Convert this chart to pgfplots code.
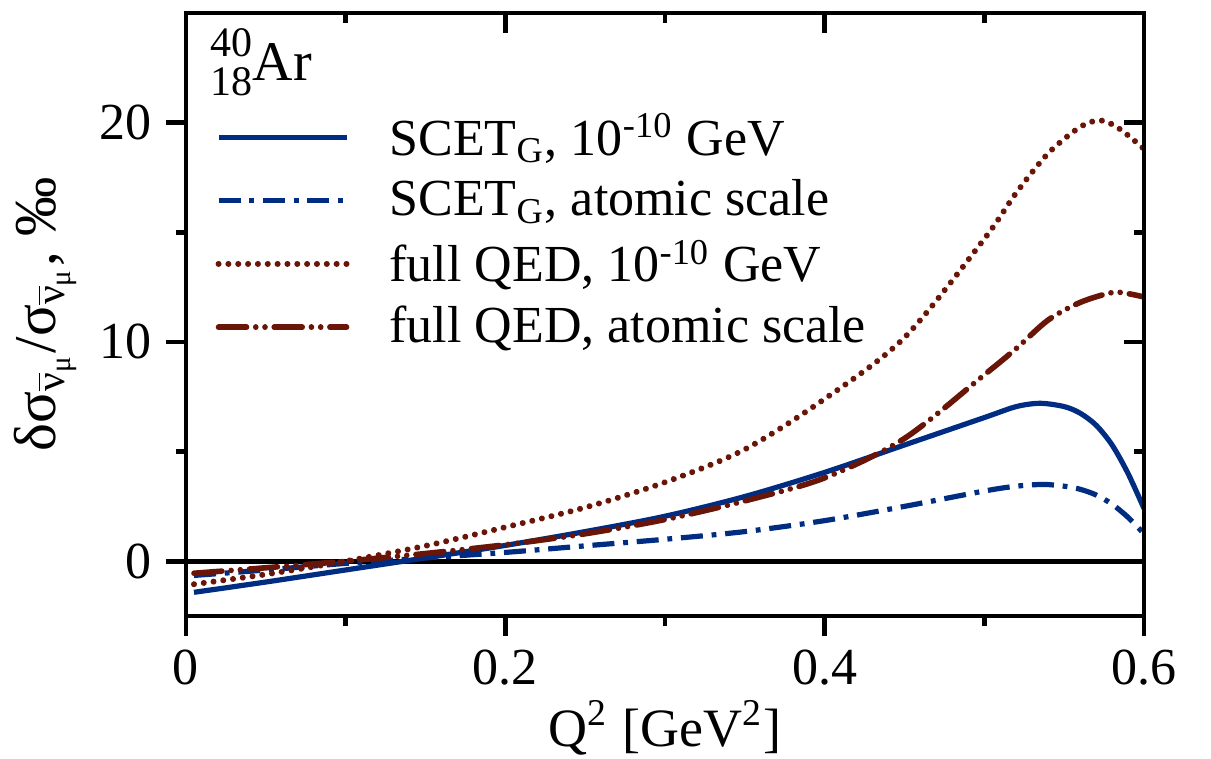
\documentclass[border=0pt]{standalone}
\usepackage{fontspec}
\setmainfont{Liberation Serif}
\usepackage{pgfplots}
\pgfplotsset{compat=1.18}
\usetikzlibrary{calc}
\definecolor{cblue}{RGB}{0,45,130}
\definecolor{cred}{RGB}{105,22,8}
\begin{document}
\begin{tikzpicture}
\pgfplotsset{
  myframe/.style={
    scale only axis, width=239.5pt, height=150.75pt,
    xmin=0, xmax=0.6, ymin=-2.5, ymax=25,
    axis line style={line width=1.2pt},
    every tick/.style={black, line width=1.2pt},
    every minor tick/.style={black, line width=1.2pt},
    major tick length=5pt, minor tick length=2.6pt,
    xtick={0,0.2,0.4,0.6}, minor xtick={0.1,0.3,0.5},
    ytick={0,10,20}, minor ytick={5,15},
    /pgf/number format/assume math mode=true,
    tick label style={font=\fontsize{13}{15}\selectfont},
  }
}
\begin{axis}[myframe, name=ax,
  tick align=outside, xtick pos=bottom, ytick pos=left,
  xticklabels={0,0.2,0.4,0.6},
  yticklabels={0,10,20},
  xlabel style={font=\fontsize{13.5}{15}\selectfont, yshift=3pt},
  ylabel style={font=\fontsize{14.8}{16}\selectfont, yshift=-1pt},
  xlabel={Q\textsuperscript{2} [GeV\textsuperscript{2}]},
  ylabel={δσ\textsubscript{\ensuremath{\overline{\mbox{ν}}}\textsubscript{μ}}/σ\textsubscript{\ensuremath{\overline{\mbox{ν}}}\textsubscript{μ}}, ‰},
  legend style={draw=none, fill=none, at={(rel axis cs:0.03,0.848)}, anchor=north west,
    font=\fontsize{13}{15}\selectfont, row sep=0.6pt, inner sep=0pt,
    nodes={inner xsep=8pt}},
  legend cell align=left,
  legend image code/.code={\draw[#1] (0pt,0pt) -- (32pt,0pt); \path (34pt,0pt);},
]
\addplot[black, line width=1.2pt, forget plot] coordinates {(0,0) (0.6,0)};
\addplot[cblue, line width=1.3pt, smooth] coordinates {
(0.005,-1.42) (0.05,-0.95) (0.1,-0.4) (0.15,0.15) (0.2,0.72) (0.25,1.35) (0.3,2.05)
(0.35,2.95) (0.4,4.05) (0.45,5.3) (0.5,6.55) (0.52,7.05) (0.535,7.2) (0.55,7.05)
(0.56,6.75) (0.57,6.2) (0.58,5.3) (0.59,4.0) (0.6,2.4)};
\addlegendentry{SCET\textsubscript{G}, 10\textsuperscript{-10} GeV}
\addplot[cblue, line width=1.3pt, smooth, dash pattern=on 5.5pt off 2.2pt on 1.2pt off 2.2pt] coordinates {
(0.005,-0.65) (0.05,-0.4) (0.1,-0.1) (0.15,0.15) (0.2,0.4) (0.25,0.7) (0.3,1.0)
(0.35,1.35) (0.4,1.85) (0.45,2.5) (0.5,3.2) (0.52,3.42) (0.537,3.5) (0.55,3.42)
(0.56,3.28) (0.57,3.02) (0.58,2.6) (0.59,2.0) (0.6,1.25)};
\addlegendentry{SCET\textsubscript{G}, atomic scale}
\addplot[cred, line width=1.5pt, smooth, line cap=round, dash pattern=on 0.01pt off 2.45pt] coordinates {
(0.005,-1.05) (0.05,-0.6) (0.1,0.0) (0.15,0.7) (0.2,1.55) (0.25,2.45) (0.3,3.6)
(0.35,5.1) (0.4,7.4) (0.45,10.2) (0.5,14.7) (0.52,16.8) (0.54,18.6) (0.56,19.8)
(0.573,20.1) (0.585,19.7) (0.6,18.8)};
\addlegendentry{full QED, 10\textsuperscript{-10} GeV}
\addplot[cred, line width=1.4pt, smooth, line cap=round, dash pattern=on 7pt off 2.3pt on 0.01pt off 2.3pt on 0.01pt off 2.3pt] coordinates {
(0.005,-0.55) (0.05,-0.3) (0.1,0.0) (0.15,0.35) (0.2,0.75) (0.25,1.25) (0.3,1.9)
(0.35,2.75) (0.4,3.8) (0.45,5.6) (0.5,8.5) (0.52,9.7) (0.54,11.0) (0.56,11.8)
(0.58,12.25) (0.59,12.2) (0.6,12.05)};
\addlegendentry{full QED, atomic scale}
\node[anchor=north west, inner sep=0pt, font=\fontsize{14}{15}\selectfont] at (rel axis cs:0.025,0.975)
  {\raisebox{-3.6pt}{\fontsize{10.5}{8.6}\selectfont\begin{tabular}[b]{@{}r@{}}40\\18\end{tabular}}Ar};
\end{axis}
\begin{axis}[myframe, tick align=inside, xtick pos=top, ytick pos=right,
  xticklabels={}, yticklabels={}]
\end{axis}
\pgfresetboundingbox
\path ($(ax.south west)+(-46.5pt,-35.5pt)$) rectangle ($(ax.north east)+(16.75pt,3.25pt)$);
\end{tikzpicture}
\end{document}
